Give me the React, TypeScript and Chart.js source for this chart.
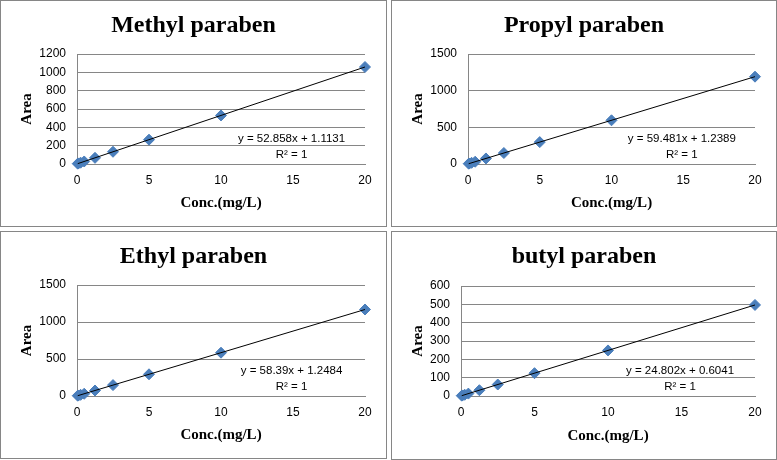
import React, { useEffect, useRef } from "react";
import { Chart, registerables } from "chart.js";

Chart.register(...registerables);

// ---- data ----
const concentrations = [0.05, 0.1, 0.25, 0.5, 1.25, 2.5, 5, 10, 20];
const methylArea = [3.8, 6.4, 14.3, 27.5, 67.2, 133.3, 265.4, 529.7, 1058.3];
const propylArea = [4.2, 7.2, 16.1, 31.0, 75.6, 149.9, 298.6, 596.0, 1190.9];
const ethylArea = [4.2, 7.1, 15.8, 30.4, 74.2, 147.2, 293.2, 585.1, 1169.0];
const butylArea = [1.8, 3.1, 6.8, 13.0, 31.6, 62.6, 124.6, 248.6, 496.6];

const trendX = [0.05, 20];
const methylTrend = [3.8, 1058.3];
const propylTrend = [4.2, 1190.9];
const ethylTrend = [4.2, 1169.0];
const butylTrend = [1.8, 496.6];

const titles = ["Methyl paraben", "Propyl paraben", "Ethyl paraben", "butyl paraben"];
const equations = [
  "y = 52.858x + 1.1131",
  "y = 59.481x + 1.2389",
  "y = 58.39x + 1.2484",
  "y = 24.802x + 0.6041",
];
const r2Label = "R² = 1";
const yMax = [1200, 1500, 1500, 600];
const yStep = [200, 500, 500, 100];
const xMax = 20;
const xStep = 5;
const xTitle = "Conc.(mg/L)";
const yTitle = "Area";

const seriesList = [methylArea, propylArea, ethylArea, butylArea];
const trendList = [methylTrend, propylTrend, ethylTrend, butylTrend];

// ---- layout (positions, not data) ----
type Panel = {
  L: number; T: number; W: number; H: number;
  left: number; right: number; top: number; bottom: number;
};
const panels: Panel[] = [
  { L: 0, T: 0, W: 387, H: 227, left: 76, right: 364, top: 53, bottom: 163 },
  { L: 391, T: 0, W: 386, H: 227, left: 76, right: 363, top: 53, bottom: 163 },
  { L: 0, T: 231, W: 387, H: 228, left: 76, right: 364, top: 53, bottom: 164 },
  { L: 391, T: 231, W: 386, H: 229, left: 69, right: 363, top: 54, bottom: 164 },
];

const GRID = "#868686";
const BLUE = "#4a7ebb";

const equationPlugin = {
  id: "equationLabel",
  afterDatasetsDraw(chart: any, _args: any, opts: any) {
    const { ctx, chartArea } = chart;
    const x = chartArea.left + opts.fx * (chartArea.right - chartArea.left);
    const y = chartArea.top + opts.fy * (chartArea.bottom - chartArea.top);
    ctx.save();
    ctx.fillStyle = "#000";
    ctx.font = "11.5px 'Liberation Sans', Arial, sans-serif";
    ctx.textAlign = "center";
    ctx.textBaseline = "middle";
    ctx.fillText(opts.eq, x, y);
    ctx.fillText(opts.r2, x, y + 16);
    ctx.restore();
  },
};

function PanelChart({ idx }: { idx: number }) {
  const ref = useRef<HTMLCanvasElement | null>(null);
  const p = panels[idx];
  const cw = p.W - 2;
  const ch = p.H - 2;

  useEffect(() => {
    if (!ref.current) return;
    const pts = concentrations.map((c, i) => ({ x: c, y: seriesList[idx][i] }));
    const trend = trendX.map((c, i) => ({ x: c, y: trendList[idx][i] }));
    const titleFont = 24;
    const titleTop = 10;
    const titleBottom = p.top - titleTop - titleFont * 1.2;
    const chart = new Chart(ref.current, {
      type: "scatter",
      data: {
        datasets: [
          {
            type: "line",
            data: trend,
            borderColor: "#000",
            borderWidth: 1,
            pointRadius: 0,
            fill: false,
            clip: false,
          } as any,
          {
            data: pts,
            backgroundColor: BLUE,
            borderColor: BLUE,
            pointStyle: "rectRot",
            pointRadius: 5.5,
            borderWidth: 1,
            clip: false,
          },
        ],
      },
      options: {
        responsive: false,
        animation: false,
        devicePixelRatio: 1,
        layout: { padding: 0 },
        plugins: {
          legend: { display: false },
          tooltip: { enabled: false },
          title: {
            display: true,
            text: titles[idx],
            color: "#000",
            font: { family: "'Liberation Serif', 'Times New Roman', serif", size: titleFont, weight: "bold", lineHeight: 1.2 },
            padding: { top: titleTop, bottom: titleBottom },
          },
          equationLabel: { fx: 0.745, fy: 0.773, eq: equations[idx], r2: r2Label },
        } as any,
        scales: {
          x: {
            type: "linear",
            min: 0,
            max: xMax,
            afterFit: (s: any) => { s.height = ch - p.bottom; },
            ticks: {
              stepSize: xStep,
              color: "#000",
              padding: 9,
              font: { family: "'Liberation Sans', Arial, sans-serif", size: 12 },
              callback: (v: any) => String(v),
            },
            grid: { display: false, drawTicks: false },
            border: { display: true, color: GRID, width: 1 },
            title: {
              display: true,
              text: xTitle,
              color: "#000",
              font: { family: "'Liberation Serif', 'Times New Roman', serif", size: 15, weight: "bold", lineHeight: 1.2 },
              padding: { top: 0, bottom: 14 },
            },
          },
          y: {
            type: "linear",
            position: "left",
            min: 0,
            max: yMax[idx],
            afterFit: (s: any) => { s.width = p.left; },
            ticks: {
              stepSize: yStep[idx],
              color: "#000",
              padding: 11,
              font: { family: "'Liberation Sans', Arial, sans-serif", size: 12 },
              callback: (v: any) => String(v),
            },
            grid: { display: true, color: GRID, lineWidth: 1, drawTicks: false },
            border: { display: true, color: GRID, width: 1 },
            title: {
              display: true,
              text: yTitle,
              color: "#000",
              font: { family: "'Liberation Serif', 'Times New Roman', serif", size: 15, weight: "bold", lineHeight: 1.2 },
              padding: { top: 17, bottom: 0 },
            },
          },
          spacer: {
            type: "linear",
            position: "right",
            display: true,
            afterFit: (s: any) => { s.width = cw - p.right; },
            ticks: { display: false },
            grid: { display: false, drawTicks: false },
            border: { display: false },
          },
        },
      },
      plugins: [equationPlugin],
    } as any);
    return () => chart.destroy();
  }, [idx]);

  return (
    <div
      style={{
        position: "absolute",
        left: p.L,
        top: p.T,
        width: p.W,
        height: p.H,
        boxSizing: "border-box",
        border: `1px solid ${GRID}`,
        background: "#fff",
      }}
    >
      <canvas ref={ref} width={cw} height={ch} style={{ display: "block", width: cw, height: ch }} />
    </div>
  );
}

export default function App() {
  return (
    <div style={{ position: "absolute", left: 0, top: 0, width: 777, height: 460, background: "#fff" }}>
      {panels.map((_, i) => (
        <PanelChart key={i} idx={i} />
      ))}
    </div>
  );
}
